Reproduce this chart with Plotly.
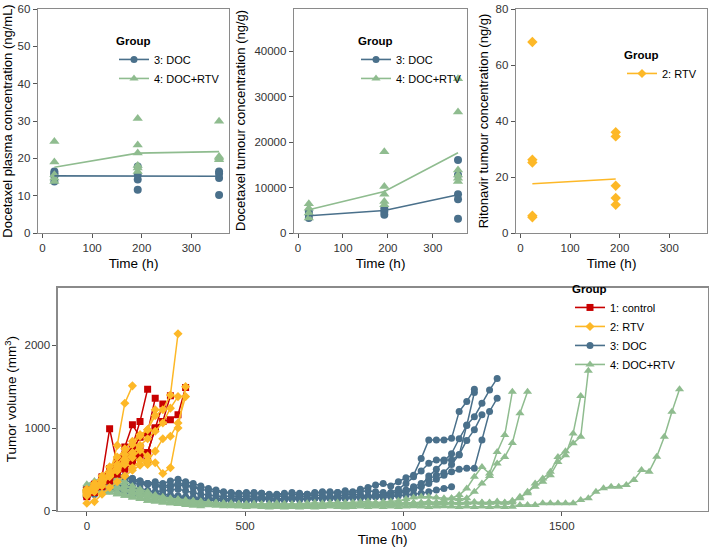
import plotly.graph_objects as go

# ---------------- colours ----------------
C_CTRL = "#C80000"
C_RTV = "#FDB827"
C_DOC = "#4A708B"
C_DR = "#8FBC8F"

# ---------------- top panels data ----------------
plasma_doc_t = [24, 24, 24, 24, 24, 192, 192, 192, 192, 356, 356, 356, 356]
plasma_doc_v = [16.5, 16.0, 15.6, 15.2, 13.8, 17.8, 15.6, 14.3, 11.6, 16.5, 15.9, 14.7, 10.2]
plasma_dr_t = [24, 24, 24, 24, 24, 192, 192, 192, 192, 192, 192, 356, 356, 356, 356]
plasma_dr_v = [24.5, 19.0, 15.6, 14.7, 13.8, 30.7, 23.6, 21.4, 18.1, 17.4, 16.5, 29.9, 20.5, 20.1, 19.6]
plasma_mean_t = [24, 192, 356]
plasma_doc_mean = [15.3, 15.3, 15.2]
plasma_dr_mean = [17.6, 21.4, 21.8]

tum_doc_t = [24, 24, 24, 192, 192, 192, 356, 356, 356, 356, 356]
tum_doc_v = [4000, 3300, 4700, 4750, 4000, 5470, 16060, 12770, 8540, 7450, 3140]
tum_dr_t = [24, 24, 24, 24, 192, 192, 192, 192, 192, 356, 356, 356, 356, 356, 356]
tum_dr_v = [6420, 5470, 4380, 3280, 17880, 10220, 8540, 6930, 6200, 33940, 26640, 13870, 12770, 12040, 11310]
tum_mean_t = [24, 192, 356]
tum_doc_mean = [3800, 4960, 8400]
tum_dr_mean = [5110, 9120, 17660]
tum_ticks = [0, 10000, 20000, 30000, 40000]
tum_tick_text = ["0", "10000", "20000", "30000", "40000"]

rtv_t = [24, 24, 24, 24, 24, 192, 192, 192, 192, 192]
rtv_v = [68.2, 26.2, 25.2, 6.2, 5.6, 36.0, 34.5, 16.9, 12.5, 10.1]
rtv_mean_t = [24, 192]
rtv_mean = [17.6, 19.3]

# ---------------- tumour volume data (measurement every 24 h) ----------------
time_h = [0, 24, 48, 72, 96, 120, 144, 168, 192, 216, 240, 264, 288, 312, 336, 360,
          384, 408, 432, 456, 480, 504, 528, 552, 576, 600, 624, 648, 672, 696, 720,
          744, 768, 792, 816, 840, 864, 888, 912, 936, 960, 984, 1008, 1032, 1056,
          1080, 1104, 1128, 1152, 1176, 1200, 1224, 1248, 1272, 1296, 1320, 1344,
          1368, 1392, 1416, 1440, 1464, 1488, 1512, 1536, 1560, 1584, 1608, 1632,
          1656, 1680, 1704, 1728, 1752, 1776, 1800, 1824, 1848, 1872]

ctrl_vols = [
    [230, 300, 410, 990, 560, 640, 780, 1080, 1470],
    [200, 260, 330, 450, 560, 770, 1040, 890, 940, 1360],
    [210, 270, 350, 430, 500, 610, 730, 890, 940, 1000, 1080, 1390],
    [170, 220, 290, 360, 440, 520, 620, 690, 700, 1000, 1080, 1100, 1160, 1490],
    [250, 320, 400, 510, 590, 680, 720, 640, 700, 990, 1290],
    [190, 240, 310, 400, 480, 570, 660, 770, 600],
    [220, 280, 360, 450, 560, 500, 590, 690],
]

rtv_vols = [
    [180, 230, 300, 420, 790, 1300, 1510],
    [220, 280, 350, 440, 560, 680, 800, 900, 980, 1150, 1220, 1400, 2140],
    [90, 110, 200, 280, 350, 420, 490, 550, 610, 580, 450, 520, 1000, 1500],
    [240, 290, 360, 430, 510, 600, 700, 790, 870, 960, 1060, 1240, 1380],
    [260, 330, 420, 530, 650, 750, 840, 920, 980, 1220],
    [200, 260, 330, 410, 480, 560, 640, 730, 660],
    [230, 280],
    [250, 310],
    [210, 270, 340, 420, 500, 580, 520, 610, 560],
    [240, 300, 380, 460, 540, 620, 700, 780, 600, 720, 870, 900, 1060, 1380],
]

doc_vols = [
    [250, 280, 310, 330, 350, 370, 340, 310, 330, 350,
     330, 360, 380, 350, 330, 300, 270, 250, 230, 220,
     210, 220, 200, 210, 190, 200, 210, 200, 190, 200,
     220, 230, 210, 220, 240, 230, 260, 280, 310, 330,
     300, 350, 400, 430, 630, 855, 855, 855, 875, 1200,
     1320, 1470],
    [200, 220, 250, 270, 260, 240, 230, 210, 200, 190,
     180, 170, 160, 160, 150, 150, 140, 150, 140, 140,
     150, 140, 150, 160, 150, 140, 150, 160, 150, 150,
     160, 150, 160, 170, 160, 170, 180, 170, 180, 190,
     220, 260, 330, 410, 480, 573, 613, 613, 613, 674,
     1036, 1137, 1299, 1459, 1600],
    [230, 260, 290, 320, 300, 280, 260, 250, 240, 230,
     240, 250, 260, 240, 220, 200, 190, 180, 170, 180,
     170, 180, 170, 160, 170, 180, 170, 160, 170, 180,
     190, 180, 170, 180, 190, 200, 190, 180, 190, 200,
     210, 230, 250, 270, 290, 330, 380, 430, 470, 500,
     513, 513, 855, 1200, 1359],
    [280, 310, 340, 370, 400, 420, 390, 360, 330, 300,
     280, 290, 310, 300, 280, 260, 240, 230, 220, 210,
     200, 210, 220, 210, 200, 190, 200, 220, 210, 200,
     210, 220, 230, 220, 210, 220, 230, 240, 230, 220,
     210, 230, 220, 260, 300, 420, 500, 600, 690, 870,
     1030, 1430],
    [180, 200, 220, 240, 230, 220, 200, 190, 180, 170,
     160, 150, 150, 140, 130, 130, 120, 130, 120, 120,
     130, 120, 130, 140, 130, 120, 130, 140, 130, 140,
     150, 140, 150, 160, 150, 160, 170, 160, 170, 180,
     180, 200, 240, 290, 330, 380, 430, 460, 560, 680,
     850, 980, 1160],
    [210, 230, 260, 290, 310, 300, 280, 260, 240, 220,
     200, 190, 180, 170, 160, 150, 150, 140, 150, 140,
     130, 140, 130, 140, 150, 140, 130, 140, 150, 140,
     150, 160, 150, 140, 150, 160, 150, 160, 170, 160,
     170, 180, 190, 200, 210, 230, 250, 270, 290],
    [210, 250],
    [260, 300],
    [180, 220],
    [230, 280, 320, 350, 380, 400, 370, 340, 320],
    [190, 230, 270, 300, 330, 310, 290, 260, 240],
    [280, 320, 360, 400, 440, 420, 390, 360, 330, 320, 300, 310, 330, 320, 290, 270],
    [170, 200, 230, 250, 240, 220, 210, 190, 180, 170, 160, 150, 140, 140, 130, 120],
]

dr_vols = [
    [280, 300, 320, 300, 270, 240, 210, 190, 170, 160,
     150, 140, 130, 120, 110, 100, 95, 90, 85, 80,
     80, 75, 75, 70, 70, 75, 70, 65, 70, 75,
     70, 75, 80, 75, 80, 85, 80, 90, 85, 90,
     95, 90, 100, 95, 100, 110, 100, 120, 150, 190,
     270, 410, 530, 450, 710, 915, 1440],
    [240, 260, 280, 300, 290, 260, 230, 200, 180, 160,
     150, 140, 130, 120, 115, 110, 100, 95, 90, 90,
     85, 80, 85, 80, 85, 90, 85, 80, 85, 90,
     95, 90, 95, 100, 95, 100, 105, 110, 100, 105,
     110, 120, 140, 160, 170, 170, 160, 150, 150, 140,
     150, 230, 330, 420, 570, 650, 820, 1180, 1440],
    [200, 230, 260, 250, 230, 200, 180, 160, 140, 130,
     120, 110, 100, 95, 90, 85, 80, 75, 70, 70,
     65, 60, 65, 60, 55, 60, 55, 60, 65, 60,
     65, 60, 65, 70, 65, 70, 75, 70, 75, 80,
     75, 80, 85, 80, 85, 90, 85, 90, 95, 90,
     95, 100, 95, 100, 110, 100, 120, 150, 230, 290,
     350, 430, 590, 670, 935, 1387],
    [260, 290, 330, 360, 340, 310, 270, 240, 210, 190,
     170, 150, 140, 130, 120, 110, 100, 95, 90, 85,
     80, 75, 80, 75, 70, 75, 70, 65, 70, 65,
     70, 75, 70, 75, 80, 75, 80, 85, 80, 85,
     90, 85, 90, 95, 90, 95, 100, 95, 100, 95,
     100, 105, 100, 95, 100, 95, 100, 170, 210, 330,
     390, 470, 650, 720, 815, 895, 1693],
    [190, 210, 230, 220, 200, 180, 160, 140, 120, 110,
     100, 90, 85, 80, 75, 70, 65, 60, 55, 55,
     50, 45, 50, 45, 40, 45, 40, 45, 40, 45,
     40, 45, 50, 45, 40, 45, 50, 45, 50, 45,
     50, 45, 50, 55, 50, 45, 50, 55, 50, 45,
     50, 45, 50, 45, 50, 45,
     48, 69, 69, 69, 89, 89, 89, 89, 89, 129, 150, 230, 271, 290, 290, 311,
     371, 492, 472, 653, 895, 1197, 1468],
    [250, 290],
    [300, 340],
    [220, 260],
    [270, 320, 380, 410, 390, 350, 300, 260, 230],
    [200, 240, 280, 300, 290, 260, 230, 200, 180],
    [320, 360, 400, 380, 340, 300, 260, 230, 200, 180, 160, 140, 120, 110, 100, 90],
    [180, 210, 230, 220, 200, 180, 160, 140, 120, 110, 100, 90, 80, 70, 60, 55],
]

group_names = ["1: control", "2: RTV", "3: DOC", "4: DOC+RTV"]

FONT = "Liberation Sans, Arial, sans-serif"
fig = go.Figure()

def pts(x, y, xa, ya, color, symbol, size):
    fig.add_trace(go.Scatter(x=x, y=y, xaxis=xa, yaxis=ya, mode="markers",
                             marker=dict(color=color, symbol=symbol, size=size),
                             showlegend=False, hoverinfo="skip"))

def meanline(x, y, xa, ya, color):
    fig.add_trace(go.Scatter(x=x, y=y, xaxis=xa, yaxis=ya, mode="lines",
                             line=dict(color=color, width=1.6),
                             showlegend=False, hoverinfo="skip"))

def legend_entry(name, xa, ya, color, symbol, size, legend):
    fig.add_trace(go.Scatter(x=[None], y=[None], xaxis=xa, yaxis=ya, name=name,
                             mode="lines+markers", legend=legend,
                             line=dict(color=color, width=1.6),
                             marker=dict(color=color, symbol=symbol, size=size)))

# panel 1
pts(plasma_doc_t, plasma_doc_v, "x", "y", C_DOC, "circle", 8)
pts(plasma_dr_t, plasma_dr_v, "x", "y", C_DR, "triangle-up", 9)
meanline(plasma_mean_t, plasma_doc_mean, "x", "y", C_DOC)
meanline(plasma_mean_t, plasma_dr_mean, "x", "y", C_DR)
legend_entry(group_names[2], "x", "y", C_DOC, "circle", 7, "legend")
legend_entry(group_names[3], "x", "y", C_DR, "triangle-up", 8, "legend")

# panel 2
pts(tum_doc_t, tum_doc_v, "x2", "y2", C_DOC, "circle", 8)
pts(tum_dr_t, tum_dr_v, "x2", "y2", C_DR, "triangle-up", 9)
meanline(tum_mean_t, tum_doc_mean, "x2", "y2", C_DOC)
meanline(tum_mean_t, tum_dr_mean, "x2", "y2", C_DR)
legend_entry(group_names[2], "x2", "y2", C_DOC, "circle", 7, "legend2")
legend_entry(group_names[3], "x2", "y2", C_DR, "triangle-up", 8, "legend2")

# panel 3
pts(rtv_t, rtv_v, "x3", "y3", C_RTV, "diamond", 8)
meanline(rtv_mean_t, rtv_mean, "x3", "y3", C_RTV)
legend_entry(group_names[1], "x3", "y3", C_RTV, "diamond", 7, "legend3")

# bottom panel
def mice(vol_list, color, symbol, size):
    for v in vol_list:
        fig.add_trace(go.Scatter(x=time_h[:len(v)], y=v, xaxis="x4", yaxis="y4",
                                 mode="lines+markers",
                                 line=dict(color=color, width=1.5),
                                 marker=dict(color=color, symbol=symbol, size=size),
                                 showlegend=False, hoverinfo="skip"))

mice(doc_vols, C_DOC, "circle", 7)
mice(dr_vols, C_DR, "triangle-up", 8)
mice(ctrl_vols, C_CTRL, "square", 7)
mice(rtv_vols, C_RTV, "diamond", 7)
legend_entry(group_names[0], "x4", "y4", C_CTRL, "square", 7, "legend4")
legend_entry(group_names[1], "x4", "y4", C_RTV, "diamond", 7, "legend4")
legend_entry(group_names[2], "x4", "y4", C_DOC, "circle", 7, "legend4")
legend_entry(group_names[3], "x4", "y4", C_DR, "triangle-up", 8, "legend4")

W, H = 709, 549
def px(p):
    return p / W
def py(p):
    return (H - p) / H
def dx(a, b):
    return [px(a), px(b)]
def dy(top, bottom):
    return [py(bottom), py(top)]

def axcommon(standoff, tsize=13.5):
    return dict(showline=True, mirror=True, linecolor="#8a8a8a", linewidth=1.3,
                ticks="outside", ticklen=4, tickcolor="#555555", tickwidth=1,
                showgrid=False, zeroline=False, automargin=False,
                tickfont=dict(family=FONT, size=11.5, color="#333333"),
                title=dict(font=dict(family=FONT, size=tsize, color="#000000"),
                           standoff=standoff))

top_d = dy(9, 233)
fig.update_layout(
    xaxis=dict(domain=dx(38, 229), anchor="y", range=[-9, 376], tickvals=[0, 100, 200, 300],
               title_text="Time (h)", **axcommon(5)),
    yaxis=dict(domain=top_d, anchor="x", range=[0, 60], tickvals=[0, 10, 20, 30, 40, 50, 60],
               title_text="Docetaxel plasma concentration (ng/mL)", **axcommon(4, 13)),
    xaxis2=dict(domain=dx(294, 467), anchor="y2", range=[-9, 376], tickvals=[0, 100, 200, 300],
                title_text="Time (h)", **axcommon(5)),
    yaxis2=dict(domain=top_d, anchor="x2", range=[0, 49300],
                tickvals=tum_ticks, ticktext=tum_tick_text, **axcommon(4)),
    xaxis3=dict(domain=dx(516, 707), anchor="y3", range=[-9, 376], tickvals=[0, 100, 200, 300],
                title_text="Time (h)", **axcommon(5)),
    yaxis3=dict(domain=top_d, anchor="x3", range=[0, 80], tickvals=[0, 20, 40, 60, 80],
                title_text="Ritonavir tumour concentration (ng/g)", **axcommon(4, 13)),
    xaxis4=dict(domain=dx(57.7, 707.7), anchor="y4", range=[-92, 1961],
                tickvals=[0, 500, 1000, 1500], title_text="Time (h)", **axcommon(2)),
    yaxis4=dict(domain=dy(287.7, 510.7), anchor="x4", range=[0, 2697],
                tickvals=[0, 1000, 2000],
                title_text="Tumor volume (mm<sup>3</sup>)", **axcommon(4)),
)

fig.add_annotation(text="Docetaxel tumour concentration (ng/g)", textangle=-90,
                   xref="paper", yref="paper", x=px(241), y=py(121),
                   xanchor="center", yanchor="middle", showarrow=False,
                   font=dict(family=FONT, size=13, color="#000000"))

legcommon = dict(bgcolor="rgba(0,0,0,0)", xanchor="left", yanchor="top",
                 font=dict(family=FONT, size=11, color="#000000"),
                 title=dict(text="<b>Group</b>", font=dict(family=FONT, size=11.5)),
                 tracegroupgap=0, itemwidth=30)
fig.update_layout(
    legend=dict(x=px(114), y=py(30), **legcommon),
    legend2=dict(x=px(356), y=py(30), **legcommon),
    legend3=dict(x=px(622), y=py(44), **legcommon),
    legend4=dict(x=px(570), y=py(278), **legcommon),
)

fig.update_layout(width=W, height=H, autosize=False,
                  margin=dict(l=0, r=0, t=0, b=0),
                  paper_bgcolor="white", plot_bgcolor="white",
                  font=dict(family=FONT))

fig.write_html("out.html",
               config={"displayModeBar": False, "staticPlot": True},
               post_script="document.body.style.margin='0';"
                           "document.body.style.overflow='hidden';")
